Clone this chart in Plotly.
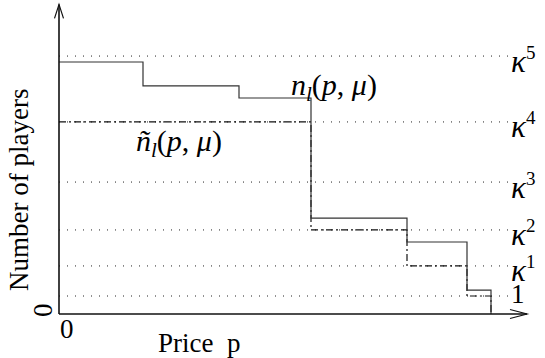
import plotly.graph_objects as go

# Demand steps n_l(p, mu): price breakpoints and the level held up to the next one
price_steps = [0, 7, 15, 21, 29, 34, 36]
n_levels = [14.0, 12.67, 12.0, 5.33, 4.0, 1.33, 0.0]

# Capacity-limited demand ñ_l(p, mu)
nt_prices = [0, 21, 29, 34, 36]
nt_levels = [10.67, 4.67, 2.67, 1.0, 0.0]

# Capacity thresholds drawn as dotted guides
kappa_levels = [1.0, 2.67, 4.67, 7.33, 10.67, 14.33]
kappa_labels = ["1", "κ1", "κ2", "κ3", "κ4", "κ5"]
guide_end = 37.6
x_axis_end = 39.0
y_axis_end = 17.2

SERIF = "Times New Roman, Liberation Serif, serif"
FS = 27
MATH_FS = 30


def kappa_html(label):
    # "κ5" -> italic kappa with a small raised index
    if len(label) == 1:
        return label
    return ("<i>%s</i><sup><span style='font-size:19px'>%s</span></sup>"
            % (label[0], label[1:]))


fig = go.Figure()

# dotted guides
gx, gy = [], []
for k in kappa_levels:
    gx += [0, guide_end, None]
    gy += [k, k, None]
fig.add_trace(go.Scatter(x=gx, y=gy, mode="lines", cliponaxis=False,
                         line=dict(color="#222", width=1, dash="1px,7px"),
                         hoverinfo="skip", showlegend=False))

# ñ_l(p, mu) dash-dot step
fig.add_trace(go.Scatter(x=nt_prices, y=nt_levels, mode="lines", line_shape="hv",
                         cliponaxis=False,
                         line=dict(color="#111", width=1.2, dash="7px,3px,2px,3px"),
                         hoverinfo="skip", showlegend=False))

# n_l(p, mu) solid step
fig.add_trace(go.Scatter(x=price_steps, y=n_levels, mode="lines", line_shape="hv",
                         cliponaxis=False,
                         line=dict(color="#333", width=1.2),
                         hoverinfo="skip", showlegend=False))

# axes with open arrow heads
shapes = [
    dict(type="line", xref="x", yref="y", x0=0, y0=0, x1=x_axis_end, y1=0,
         line=dict(color="#111", width=1.6)),
    dict(type="line", xref="x", yref="y", x0=0, y0=0, x1=0, y1=y_axis_end,
         line=dict(color="#111", width=1.6)),
    dict(type="path", xref="x", yref="y", xsizemode="pixel", ysizemode="pixel",
         xanchor=x_axis_end, yanchor=0, path="M-17,4.5 L0,0 L-17,-4.5",
         line=dict(color="#111", width=1.2)),
    dict(type="path", xref="x", yref="y", xsizemode="pixel", ysizemode="pixel",
         xanchor=0, yanchor=y_axis_end, path="M-4.5,-14 L0,0 L4.5,-14",
         line=dict(color="#111", width=1.2)),
]

annotations = []
for k, lab in zip(kappa_levels, kappa_labels):
    is_one = len(lab) == 1
    annotations.append(dict(x=guide_end, y=k, xref="x", yref="y", text=kappa_html(lab),
                            showarrow=False, xanchor="left", yanchor="middle",
                            borderpad=0,
                            yshift=2 if is_one else -4,
                            font=dict(family=SERIF, size=FS if is_one else 31,
                                      color="#000")))

annotations += [
    dict(x=22.9, y=12.6, xref="x", yref="y",
         text="<i>n</i><sub><i>l</i></sub>(<i>p</i>, <i>μ</i>)",
         showarrow=False, font=dict(family=SERIF, size=MATH_FS, color="#000")),
    dict(x=10.0, y=9.5, xref="x", yref="y",
         text="<i>ñ</i><sub><i>l</i></sub>(<i>p</i>, <i>μ</i>)",
         showarrow=False, font=dict(family=SERIF, size=MATH_FS, color="#000")),
    dict(x=11.67, y=-1.61, xref="x", yref="y", text="Price  p",
         showarrow=False, font=dict(family=SERIF, size=FS, color="#000")),
    dict(x=0.67, y=-0.83, xref="x", yref="y", text="0",
         showarrow=False, font=dict(family=SERIF, size=FS, color="#000")),
    dict(x=-1.33, y=0.22, xref="x", yref="y", text="0", textangle=-90,
         showarrow=False, font=dict(family=SERIF, size=FS, color="#000")),
    dict(x=-3.33, y=6.89, xref="x", yref="y", text="Number of players", textangle=-90,
         showarrow=False, font=dict(family=SERIF, size=FS, color="#000")),
]

fig.update_layout(
    width=545, height=358,
    margin=dict(l=0, r=0, t=0, b=0),
    paper_bgcolor="white", plot_bgcolor="white",
    xaxis=dict(range=[-59 / 12, 486 / 12], visible=False, fixedrange=True),
    yaxis=dict(range=[-44 / 18, 314 / 18], visible=False, fixedrange=True),
    shapes=shapes, annotations=annotations,
    showlegend=False,
)

fig.write_html("out.html")
